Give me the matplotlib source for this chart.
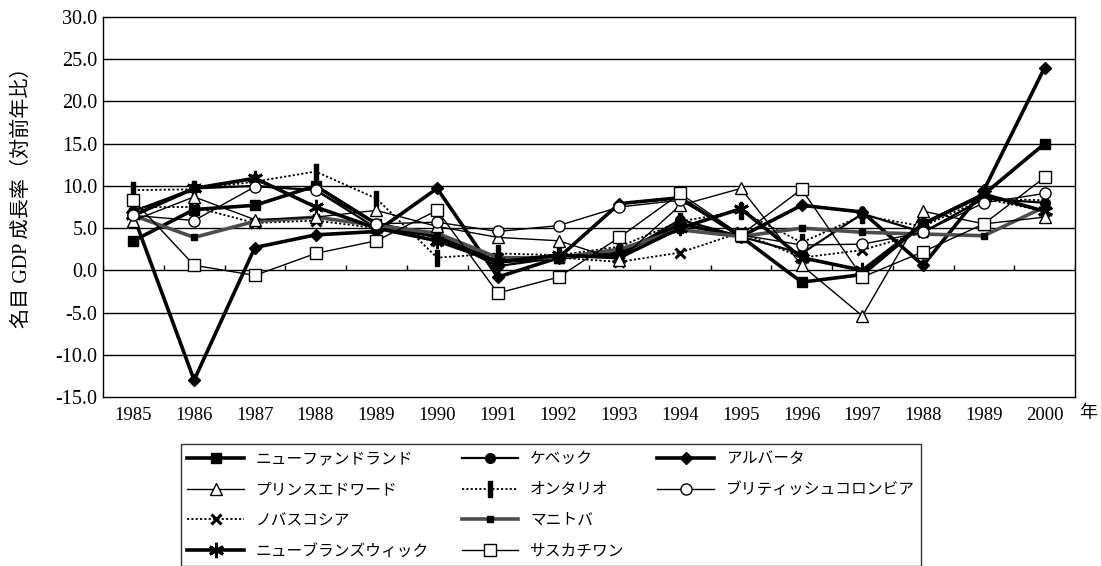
import matplotlib
matplotlib.use("Agg")
import matplotlib.pyplot as plt
from matplotlib.lines import Line2D
from matplotlib.transforms import offset_copy
import numpy as np

years = ["1985", "1986", "1987", "1988", "1989", "1990", "1991", "1992",
         "1993", "1994", "1995", "1996", "1997", "1988", "1989", "2000"]

newfoundland = [3.5, 7.2, 7.7, 10.0, 5.5, 4.0, 1.0, 1.5, 2.0, 5.5, 4.0, -1.4, -0.5, 5.5, 9.0, 15.0]
quebec = [7.0, 9.7, 10.0, 9.5, 5.0, 4.0, 0.5, 1.5, 1.8, 6.0, 4.0, 2.0, 6.7, 4.5, 8.5, 8.0]
alberta = [6.5, -13.0, 2.7, 4.2, 4.6, 9.7, -0.8, 1.5, 7.9, 8.6, 4.0, 7.7, 6.9, 0.6, 9.5, 24.0]
pei = [5.9, 8.7, 6.0, 6.3, 7.1, 5.2, 3.9, 3.5, 1.2, 7.7, 9.7, 0.6, -5.4, 7.0, 5.5, 6.3]
ontario = [9.5, 9.6, 10.5, 11.7, 8.5, 1.5, 2.0, 1.8, 2.8, 5.8, 7.0, 3.3, 6.5, 5.2, 8.5, 8.3]
bc = [6.5, 5.9, 9.9, 9.5, 5.5, 5.7, 4.6, 5.3, 7.5, 8.3, 4.2, 3.0, 3.1, 4.5, 8.0, 9.1]
novascotia = [7.5, 7.5, 5.6, 5.9, 5.0, 3.5, 1.5, 1.5, 1.0, 2.1, 4.5, 1.5, 2.4, 4.5, 8.5, 7.0]
manitoba = [6.5, 3.9, 5.8, 6.3, 5.3, 4.4, 1.5, 1.5, 2.5, 4.8, 4.0, 5.0, 4.5, 4.3, 4.1, 7.5]
newbrunswick = [6.5, 9.7, 10.9, 7.5, 5.0, 3.5, 1.0, 1.8, 1.5, 5.0, 7.3, 1.5, 0.0, 5.5, 9.0, 7.0]
saskatchewan = [8.3, 0.6, -0.6, 2.0, 3.5, 7.1, -2.7, -0.8, 3.9, 9.1, 4.2, 9.6, -0.8, 2.2, 5.5, 11.0]

names = ["ニューファンドランド", "ケベック", "アルバータ", "プリンスエドワード", "オンタリオ",
         "ブリティッシュコロンビア", "ノバスコシア", "マニトバ", "ニューブランズウィック", "サスカチワン"]

yticks = [-15, -10, -5, 0, 5, 10, 15, 20, 25, 30]

plt.rcParams['font.family'] = ['Liberation Serif', 'Noto Sans CJK JP']
jp = ['Noto Sans CJK JP', 'DejaVu Sans']

fig = plt.figure(figsize=(11.01, 5.66), dpi=100)
ax = fig.add_axes([103/1101, 1-397/566, (1075-103)/1101, (397-17)/566])

x = np.arange(len(years))
bar_marker = [(-0.28, -1), (0.28, -1), (0.28, 1), (-0.28, 1), (-0.28, -1)]

styles = {
    "ニューファンドランド": dict(color='k', lw=2.6, marker='s', ms=7, mfc='k', mec='k'),
    "ケベック": dict(color='k', lw=1.6, marker='o', ms=7, mfc='k', mec='k'),
    "アルバータ": dict(color='k', lw=2.6, marker='D', ms=6.5, mfc='k', mec='k'),
    "プリンスエドワード": dict(color='k', lw=1.0, marker='^', ms=9, mfc='white', mec='k', mew=1.0),
    "オンタリオ": dict(color='k', lw=1.3, ls=(0, (1.2, 1.2)), marker=bar_marker, ms=11, mfc='k', mec='k'),
    "ブリティッシュコロンビア": dict(color='k', lw=1.0, marker='o', ms=8, mfc='white', mec='k', mew=1.0),
    "ノバスコシア": dict(color='k', lw=1.3, ls=(0, (1.2, 1.2)), marker='x', ms=7, mew=2.2, mec='k'),
    "マニトバ": dict(color='0.3', lw=2.6, marker='s', ms=5, mfc='k', mec='k'),
    "ニューブランズウィック": dict(color='k', lw=2.6, marker=(6, 2, 0), ms=11, mew=2.0, mec='k'),
    "サスカチワン": dict(color='k', lw=1.0, marker='s', ms=9, mfc='white', mec='k', mew=1.0),
}
data = [newfoundland, quebec, alberta, pei, ontario, bc, novascotia, manitoba, newbrunswick, saskatchewan]

handles = {}
for name, vals in zip(names, data):
    st = styles[name]
    zo = 4 if st.get('mfc') == 'white' else 3
    (ln,) = ax.plot(x, vals, label=name, zorder=zo, **st)
    handles[name] = ln

ax.set_xlim(-0.5, len(years) - 0.5)
ax.set_ylim(-15, 30)
ax.set_yticks(yticks)
ax.set_yticklabels([f"{v:.1f}" for v in yticks], fontsize=14.5)
for v in yticks[1:-1]:
    ax.axhline(v, color='k', lw=1.0, zorder=1)
ax.tick_params(axis='y', length=0, pad=4)
ax.set_xticks(x)
ax.set_xticklabels(years, fontsize=13.5)
ax.tick_params(axis='x', length=0, pad=7)
ax.vlines(np.arange(len(years) + 1) - 0.5, 0, 0.6, color='k', lw=1.0, zorder=1)
for s in ax.spines.values():
    s.set_linewidth(1.0)
    s.set_color('k')

tr = offset_copy(ax.transAxes, fig=fig, x=4, y=-7, units='dots')
ax.text(1.0, 0.0, "年", transform=tr, fontsize=13, family=jp, ha='left', va='top')
fig.text(22/1101, 1 - 193/566, "名目 GDP 成長率（対前年比）", rotation=90, ha='center', va='center',
         fontsize=14.5, family=['Liberation Serif', 'Noto Sans CJK JP'])

blank = Line2D([], [], color='none')
order = ["ニューファンドランド", "プリンスエドワード", "ノバスコシア", "ニューブランズウィック",
         "ケベック", "オンタリオ", "マニトバ", "サスカチワン",
         "アルバータ", "ブリティッシュコロンビア", None, None]
hs = [handles[n] if n else blank for n in order]
ls_ = [n if n else "" for n in order]
leg = fig.legend(hs, ls_, ncol=3, loc='upper left', bbox_to_anchor=(181/1101, 1 - 444/566),
                 frameon=True, fancybox=False, edgecolor='k', prop={'family': jp, 'size': 11.3},
                 handlelength=3.6, handletextpad=0.75, columnspacing=2.1, labelspacing=0.88,
                 borderpad=0.4, borderaxespad=0)
leg.get_frame().set_linewidth(1.0)

fig.savefig("out.png", dpi=100)
